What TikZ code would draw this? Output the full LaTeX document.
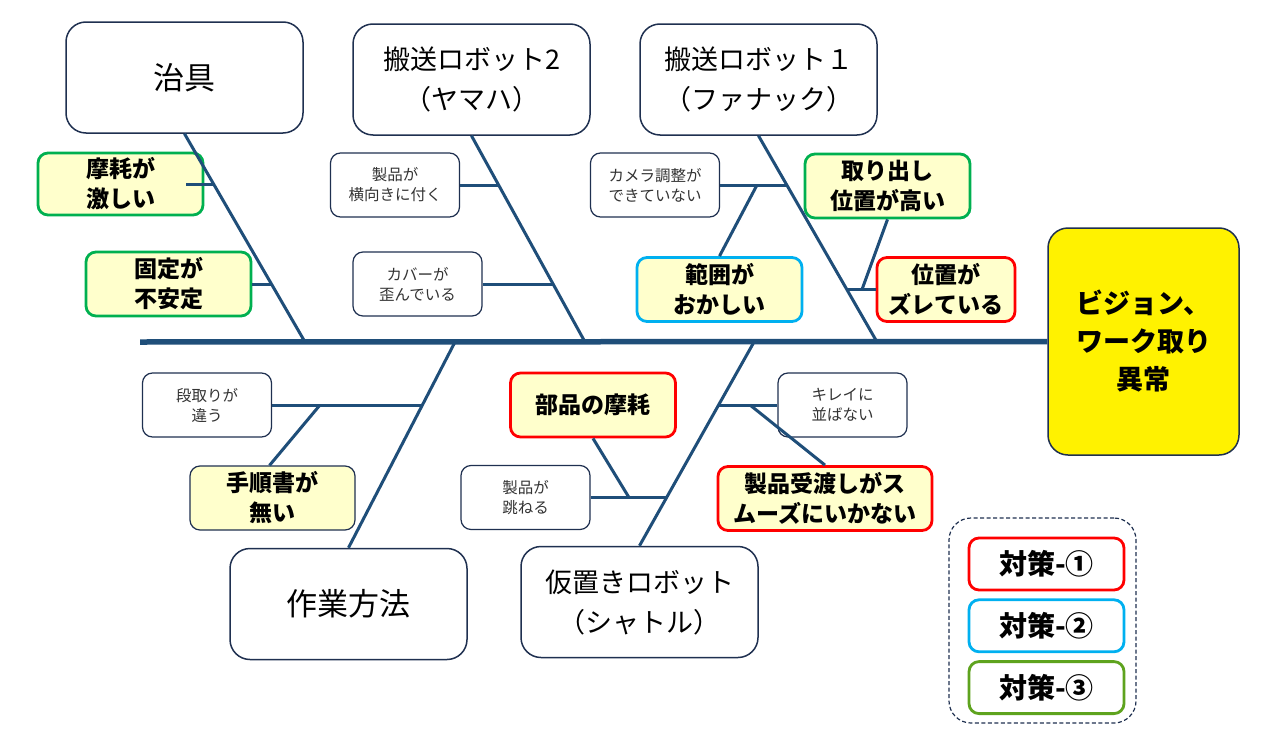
\documentclass[tikz,border=0pt]{standalone}
\usepackage{fontspec}
\setmainfont{Noto Sans CJK JP}
\usepackage{tikz}
\usetikzlibrary{positioning}
\definecolor{bonec}{HTML}{1F4E79}
\definecolor{edgec}{HTML}{1F3050}
\definecolor{notec}{HTML}{FFFFCC}
\definecolor{redc}{HTML}{FF0000}
\definecolor{cyanc}{HTML}{00B0F0}
\definecolor{greenc}{HTML}{00B050}
\definecolor{olivec}{HTML}{5EA31E}
\tikzstyle{cat} = [draw=edgec, line width=1.5pt, rounded corners=20pt,
    minimum width=237pt, minimum height=111pt, align=center, font=\fontsize{27}{40}\selectfont]
\tikzstyle{cause} = [draw=edgec, line width=1.2pt, rounded corners=10pt, fill=white,
    minimum width=129pt, minimum height=64pt, align=center, text=black!80, font=\fontsize{15.5}{20}\selectfont]
\tikzstyle{key} = [line width=2.8pt, rounded corners=10pt, fill=notec,
    minimum width=165pt, minimum height=64pt, align=center, font=\bfseries\fontsize{23}{30}\selectfont]
\tikzstyle{legkey} = [key, fill=white, minimum width=155pt, minimum height=52pt,
    font=\bfseries\fontsize{28}{32}\selectfont]
\tikzstyle{line} = [draw=bonec, line width=3pt]

\begin{document}
\begin{tikzpicture}[x=1pt, y=-1pt]
    \useasboundingbox [fill=white] (0,0) rectangle (1280,736);
    \node [cat] (jig) at (184.5,77.5) {\fontsize{31}{40}\selectfont 治具};
    \node [cat] (robtwo) at (471.5,79.5) {搬送ロボット2\\（ヤマハ）};
    \node [cat] (robone) at (758.5,79.5) {搬送ロボット１\\（ファナック）};
    \node [cat] (method) at (348.5,604) {\fontsize{31}{40}\selectfont 作業方法};
    \node [cat] (shuttle) at (639.5,602) {仮置きロボット\\（シャトル）};
    \node [cat, fill=yellow, minimum width=191pt, minimum height=227pt,
        font=\bfseries\fontsize{27}{38}\selectfont] (effect) at (1143.5,341.5) {ビジョン、\\ワーク取り\\異常};
    % causes
    \node [cause] (sideways) at (395,185) {製品が\\横向きに付く};
    \node [cause] (cover) at (417.5,284) {カバーが\\歪んでいる};
    \node [cause] (camera) at (655,185) {カメラ調整が\\できていない};
    \node [cause] (setup) at (207,405) {段取りが\\違う};
    \node [cause] (bounce) at (525.5,497.5) {製品が\\跳ねる};
    \node [cause] (neat) at (842.5,405) {キレイに\\並ばない};
    \node [key, draw=greenc, minimum height=62pt] (wear) at (120.5,184) {摩耗が\\激しい};
    \node [key, draw=greenc] (fix) at (168.5,284) {固定が\\不安定};
    \node [key, draw=cyanc] (range) at (719.5,289.5) {範囲が\\おかしい};
    \node [key, draw=greenc] (height) at (887.5,186) {取り出し\\位置が高い};
    \node [key, draw=redc, minimum width=138pt] (shift) at (946,289.5) {位置が\\ズレている};
    \node [key, draw=edgec, line width=1.2pt] (manual) at (272.5,498) {手順書が\\無い};
    \node [key, draw=redc, minimum height=64pt] (parts) at (593,405) {部品の摩耗};
    \node [key, draw=redc, minimum width=214pt] (handover) at (825,498.5) {製品受渡しがス\\ムーズにいかない};
    % legend
    \node [draw=edgec, line width=1.2pt, dash pattern=on 4pt off 2.5pt, rounded corners=22pt,
        minimum width=187pt, minimum height=205pt] (legend) at (1042.5,620.5) {};
    \node [legkey, draw=redc] (lone) at (1046.5,564) {対策-①};
    \node [legkey, draw=cyanc, below=7pt of lone] (ltwo) {対策-②};
    \node [legkey, draw=olivec, below=7pt of ltwo] (lthree) {対策-③};
    % spine and bones
    \coordinate (tail) at (140,342);
    \coordinate (sjig) at (305,342);
    \coordinate (stwo) at (585,342);
    \coordinate (sone) at (877,342);
    \coordinate (smethod) at (455,342);
    \coordinate (sshuttle) at (754,342);
    \path [line, line width=5.5pt] (tail) -- (effect.west);
    \path [line] (jig.south) -- (sjig);
    \path [line] (robtwo.south) -- (stwo);
    \path [line] (robone.south) -- (sone);
    \path [line] (method.north) -- (smethod);
    \path [line] (shuttle.north) -- (sshuttle);
    % sub bones
    \coordinate (bwear) at (214,184);
    \coordinate (bfix) at (272,284);
    \coordinate (bside) at (499,185);
    \coordinate (bcover) at (553,284);
    \coordinate (bcam) at (787,185);
    \coordinate (krange) at (757,185);
    \coordinate (bshift) at (847,289.5);
    \coordinate (kheight) at (862,289.5);
    \coordinate (bsetup) at (422,405);
    \coordinate (kmanual) at (320,405);
    \coordinate (bbounce) at (667,497.5);
    \coordinate (kparts) at (629,497.5);
    \coordinate (bneat) at (719,405);
    \coordinate (khand) at (750,405);
    \path [line] ([xshift=-18pt]wear.east) -- (bwear);
    \path [line] (fix.east) -- (bfix);
    \path [line] (sideways.east) -- (bside);
    \path [line] (cover.east) -- (bcover);
    \path [line] (camera.east) -- (bcam);
    \path [line] (range.north) -- (krange);
    \path [line] (shift.west) -- (bshift);
    \path [line] (height.south) -- (kheight);
    \path [line] (setup.east) -- (bsetup);
    \path [line] ([xshift=-3pt]manual.north) -- (kmanual);
    \path [line] (bounce.east) -- (bbounce);
    \path [line] (parts.south) -- (kparts);
    \path [line] (bneat) -- (neat.west);
    \path [line] (khand) -- (handover.north);
\end{tikzpicture}
\end{document}
